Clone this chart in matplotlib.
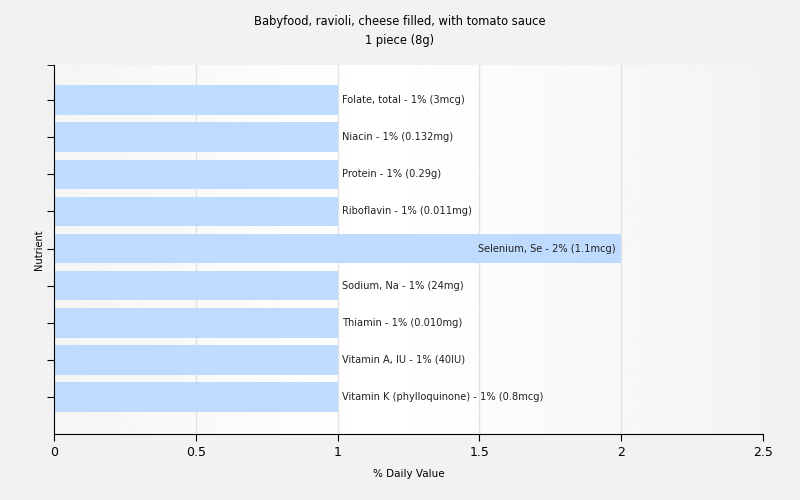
import numpy as np
import matplotlib
matplotlib.use("Agg")
import matplotlib.pyplot as plt

# data
nutrients = ["Folate, total", "Niacin", "Protein", "Riboflavin", "Selenium, Se",
             "Sodium, Na", "Thiamin", "Vitamin A, IU", "Vitamin K (phylloquinone)"]
values = [1, 1, 1, 1, 2, 1, 1, 1, 1]
amounts = ["3mcg", "0.132mg", "0.29g", "0.011mg", "1.1mcg",
           "24mg", "0.010mg", "40IU", "0.8mcg"]
xticks = [0, 0.5, 1, 1.5, 2, 2.5]

plt.rcParams['font.family'] = ['DejaVu Sans']

fig = plt.figure(figsize=(8, 5), dpi=100, facecolor='#f2f2f2')
ax = fig.add_axes([54/800, 1-434/500, (763-54)/800, (434-65)/500])

# background gradient: grey at the edges, white around x=1.1
xs = np.linspace(0, 2.5, 300)
shade = 0.955 + 0.045*np.clip(1 - np.abs(xs - 1.15)/1.35, 0, 1)
grad = np.tile(shade, (2, 1))
ax.imshow(grad, cmap='gray', vmin=0, vmax=1, aspect='auto',
          extent=[0, 2.5, 9.0, -0.95], zorder=0)

for x in xticks[1:]:
    ax.axvline(x, color='#e2e2e2', lw=1, zorder=1)

pos = np.arange(len(nutrients))
ax.barh(pos, values, height=0.8, color='#bfdbfd', zorder=2)

for p, n, v, a in zip(pos, nutrients, values, amounts):
    label = "%s - %d%% (%s)" % (n, v, a)
    if v >= 2:
        ax.text(v - 0.02, p, label, ha='right', va='center', fontsize=7.1, color='#222222', zorder=3)
    else:
        ax.text(v + 0.015, p, label, ha='left', va='center', fontsize=7.1, color='#222222', zorder=3)

ax.set_xlim(0, 2.5)
ax.set_ylim(9.0, -0.95)
ax.set_xticks(xticks)
ax.set_xticklabels(["0", "0.5", "1", "1.5", "2", "2.5"], fontsize=9)
ax.set_yticks(pos)
ax.set_yticks([-0.95], minor=True)
ax.set_yticklabels([])
ax.tick_params(axis='y', which='both', length=5, direction='out')
ax.tick_params(axis='x', length=5, direction='out')
for s in ['top', 'right']:
    ax.spines[s].set_visible(False)

ax.set_xlabel("% Daily Value", fontsize=7.5, labelpad=7)
ax.set_ylabel("Nutrient", fontsize=7.1, labelpad=-1)
fig.text(0.5, 1-31/500, "Babyfood, ravioli, cheese filled, with tomato sauce\n1 piece (8g)",
         ha='center', va='center', fontsize=8.3, linespacing=1.6)

fig.savefig("out.png", dpi=100, facecolor=fig.get_facecolor())
